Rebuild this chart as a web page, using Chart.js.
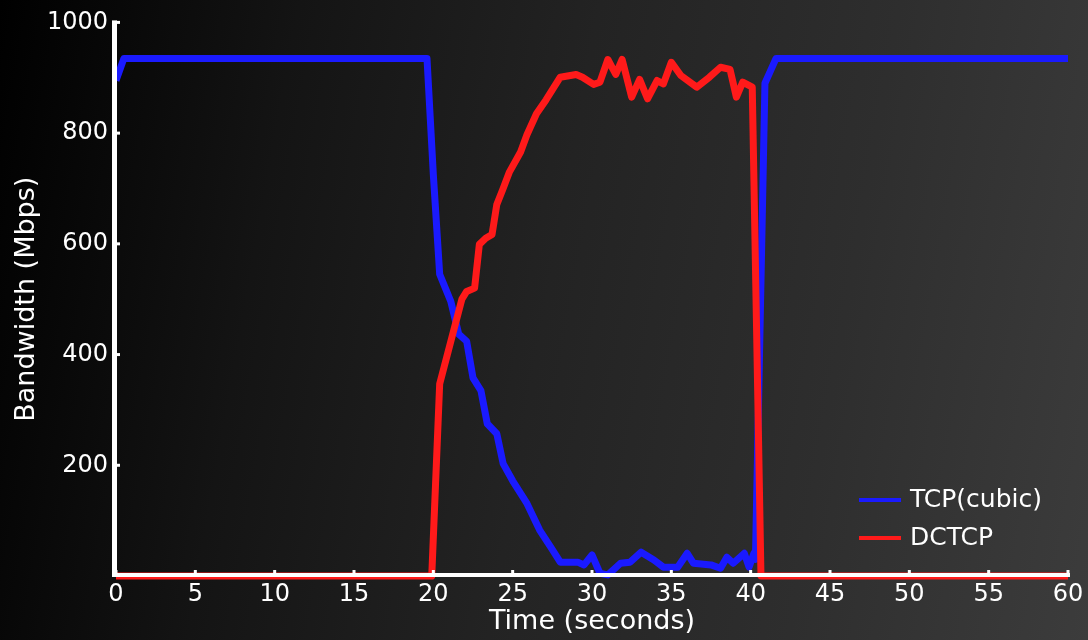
<!DOCTYPE html>
<html>
<head>
<meta charset="utf-8">
<script src="https://cdn.jsdelivr.net/npm/chart.js@4.4.1/dist/chart.umd.min.js"></script>
<style>
    html, body { margin: 0; padding: 0; }
    body {
        width: 1088px;
        height: 640px;
        overflow: hidden;
        background: linear-gradient(100deg, #000000 0%, #141414 25%, #232323 50%, #2e2e2e 75%, #3c3c3c 100%);
    }
    canvas { display: block; }
</style>
</head>
<body>
<canvas id="chart" width="1088" height="640"></canvas>
<script>
// TCP (cubic) samples: time in seconds, bandwidth in Mbps
const tcpTime = [0, 0.5, 19.6, 20.0, 20.4, 21.1, 21.6, 22.1, 22.5, 23.0, 23.4, 24.0, 24.4, 25.0, 25.9, 26.7,
    27.4, 28.0, 29.1, 29.5, 30.0, 30.5, 31.0, 31.8, 32.4, 33.1, 33.9, 34.5, 35.4, 36.0, 36.4, 37.5, 38.1,
    38.5, 38.9, 39.6, 39.9, 40.2, 40.3, 40.9, 41.6, 60];
const tcpBw = [895, 935, 935, 725, 545, 496, 437, 424, 358, 335, 275, 257, 203, 172, 131, 83,
    52, 25, 25, 20, 38, 5, 2, 23, 25, 43, 29, 16, 16, 41, 23, 20, 14,
    34, 23, 41, 16, 41, 30, 890, 935, 935];

// DCTCP samples
const dctcpTime = [0, 19.9, 20.4, 21.8, 22.1, 22.6, 22.9, 23.3, 23.7, 24.0, 24.4, 24.8, 25.5, 25.9, 26.5,
    27.1, 28.0, 29.0, 29.4, 30.1, 30.5, 31.0, 31.5, 31.9, 32.5, 33.0, 33.5, 34.1, 34.5, 35.0, 35.6,
    36.6, 37.4, 38.1, 38.7, 39.1, 39.5, 40.1, 40.65, 60];
const dctcpBw = [0, 0, 347, 500, 514, 520, 599, 610, 617, 671, 700, 730, 766, 797, 835,
    860, 901, 906, 901, 888, 892, 933, 906, 933, 865, 897, 862, 895, 889, 928, 904,
    883, 901, 919, 915, 865, 892, 883, 0, 0];

const xTicks = [0, 5, 10, 15, 20, 25, 30, 35, 40, 45, 50, 55, 60];
const yTicks = [200, 400, 600, 800, 1000];

const seriesNames = ['TCP(cubic)', 'DCTCP'];
const seriesColors = ['#1a1aff', '#ff1a1a'];

const FONT = "'DejaVu Sans', 'Liberation Sans', sans-serif";

function toPoints(xs, ys) {
    return xs.map((x, i) => ({ x: x, y: ys[i] }));
}

// axes, inside tick marks and the legend are drawn on top of the lines
const overlayPlugin = {
    id: 'overlay',
    afterDatasetsDraw(chart) {
        const ctx = chart.ctx;
        const area = chart.chartArea;
        const xs = chart.scales.x;
        const ys = chart.scales.y;
        ctx.save();
        ctx.fillStyle = '#ffffff';

        // axis lines
        ctx.fillRect(area.left - 4, area.top - 2, 5, area.bottom - area.top + 2);
        ctx.fillRect(area.left - 4, area.bottom - 3, area.right - area.left + 6, 4);

        // tick marks pointing inwards
        xTicks.forEach(v => {
            const px = xs.getPixelForValue(v);
            ctx.fillRect(px - 1.5, area.bottom - 6, 3, 4);
        });
        yTicks.forEach(v => {
            const py = ys.getPixelForValue(v);
            ctx.fillRect(area.left, py - 1.5, 4, 3);
        });

        // legend
        ctx.font = '25px ' + FONT;
        ctx.textBaseline = 'middle';
        ctx.textAlign = 'left';
        chart.data.datasets.forEach((ds, i) => {
            const ly = 500 + i * 38;
            ctx.fillStyle = ds.borderColor;
            ctx.fillRect(859, ly - 2, 42, 4);
            ctx.fillStyle = '#ffffff';
            ctx.fillText(ds.label, 910, ly);
        });
        ctx.restore();
    }
};

new Chart(document.getElementById('chart'), {
    type: 'line',
    data: {
        datasets: [
            {
                label: seriesNames[0],
                data: toPoints(tcpTime, tcpBw),
                borderColor: seriesColors[0],
                borderWidth: 7,
                pointRadius: 0,
                tension: 0,
                borderJoinStyle: 'round',
                order: 1,
                clip: false
            },
            {
                label: seriesNames[1],
                data: toPoints(dctcpTime, dctcpBw),
                borderColor: seriesColors[1],
                borderWidth: 7,
                pointRadius: 0,
                tension: 0,
                borderJoinStyle: 'round',
                order: 0,
                clip: false
            }
        ]
    },
    options: {
        responsive: false,
        animation: false,
        devicePixelRatio: 1,
        layout: { padding: { left: 0, right: 20, top: 21, bottom: 0 } },
        plugins: {
            legend: { display: false },
            tooltip: { enabled: false }
        },
        scales: {
            x: {
                type: 'linear',
                min: 0,
                max: 60,
                afterFit: scale => { scale.height = 64; },
                afterBuildTicks: scale => { scale.ticks = xTicks.map(v => ({ value: v })); },
                grid: { display: false, drawTicks: false },
                border: { display: false },
                ticks: {
                    color: '#ffffff',
                    font: { family: FONT, size: 24 },
                    padding: 4,
                    maxRotation: 0,
                    autoSkip: false,
                    callback: v => String(v)
                },
                title: {
                    display: true,
                    text: 'Time (seconds)',
                    color: '#ffffff',
                    font: { family: FONT, size: 27 },
                    padding: { top: 0, bottom: 2 }
                }
            },
            y: {
                min: 0,
                max: 1000,
                afterFit: scale => { scale.width = 116; },
                afterBuildTicks: scale => { scale.ticks = yTicks.map(v => ({ value: v })); },
                grid: { display: false, drawTicks: false },
                border: { display: false },
                ticks: {
                    color: '#ffffff',
                    font: { family: FONT, size: 24 },
                    padding: 8,
                    callback: v => String(v)
                },
                title: {
                    display: true,
                    text: 'Bandwidth (Mbps)',
                    color: '#ffffff',
                    font: { family: FONT, size: 27 },
                    padding: { top: 11, bottom: 0 }
                }
            }
        }
    },
    plugins: [overlayPlugin]
});
</script>
</body>
</html>
